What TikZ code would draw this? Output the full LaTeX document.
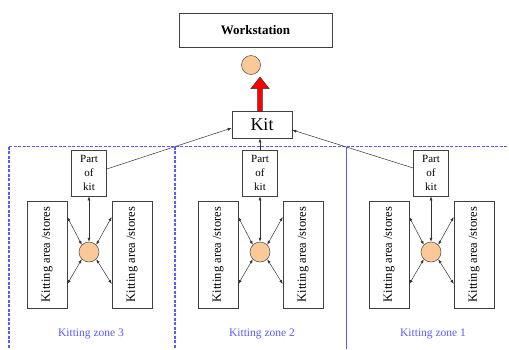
\documentclass[tikz,border=0pt]{standalone}
\usepackage{fontspec}
\setmainfont{Liberation Serif}
\usetikzlibrary{arrows.meta,calc}
\definecolor{zoneblue}{RGB}{90,90,250}
\definecolor{peach}{RGB}{251,200,152}
\tikzset{
  box/.style={draw=black!75, fill=white, line width=0.6pt, inner sep=0pt},
  store/.style={box, minimum width=40pt, minimum height=107pt},
  partbox/.style={box, minimum width=35pt, minimum height=46pt, align=center,
    font=\fontsize{11}{14}\selectfont},
  token/.style={circle, draw=black!70, fill=peach, line width=0.5pt,
    minimum size=20pt, inner sep=0pt},
  flow/.style={line width=0.5pt, black!80, -{Latex[length=4pt,width=3pt]}},
  both/.style={line width=0.5pt, black!80, {Latex[length=4pt,width=3pt]}-{Latex[length=4pt,width=3pt]}},
  zoneline/.style={draw=zoneblue, line width=1pt},
  zonedash/.style={zoneline, line width=1.4pt, dash pattern=on 3pt off 1.5pt},
  zonelabel/.style={text=zoneblue, font=\fontsize{11.5}{13}\selectfont},
}
\begin{document}
\begin{tikzpicture}[x=1pt,y=-1pt]
\useasboundingbox (0,0) rectangle (509,349);

% zone boundaries
\draw[zonedash, line width=1pt] (9,146.5) -- (509,146.5);
\draw[zonedash] (9,146.5) -- (9,349);
\draw[zonedash] (175,146.5) -- (175,349);
\draw[zoneline] (346.5,146.5) -- (346.5,349);

% workstation and delivered kit
\node[box, minimum width=153pt, minimum height=34pt,
  font=\fontsize{13}{15}\selectfont\bfseries] (ws) at (255.5,30) {Workstation};
\node[token, minimum size=19pt] (wt) at (251,65) {};
\node[box, minimum width=60pt, minimum height=27pt,
  font=\fontsize{18}{20}\selectfont] (kit) at (262,124.5) {Kit};

% red delivery arrow
\draw[fill=red, draw=black!80, line width=0.5pt]
  (257.6,111) -- (257.6,88.5) -- (251,88.5) -- (260,77) -- (269,88.5)
  -- (262.4,88.5) -- (262.4,111) -- cycle;

% kitting zones: circle centre x, label
\foreach \cx/\z/\n in {89/3/c, 260/2/b, 431/1/a} {
  \node[token] (t\n) at (\cx,252) {};
  \node[partbox] (p\n) at (\cx,173) {Part\\of\\kit};
  \node[store] (l\n) at (\cx-42,254.5) {};
  \node[rotate=90, font=\fontsize{12.5}{14}\selectfont] at (l\n) {Kitting area /stores};
  \node[store] (r\n) at (\cx+43,254.5) {};
  \node[rotate=90, font=\fontsize{12.5}{14}\selectfont] at (r\n) {Kitting area /stores};
  \node[zonelabel] (z\n) at (\cx+2,334) {Kitting zone \z};
  \draw[both] (p\n.south) -- (t\n.north);
  \draw[both] ([yshift=37.5pt]l\n.east) -- (t\n.north west);
  \draw[both] ([yshift=-29.5pt]l\n.east) -- (t\n.south west);
  \draw[both] ([yshift=37.5pt]r\n.west) -- (t\n.north east);
  \draw[both] ([yshift=-29.5pt]r\n.west) -- (t\n.south east);
}

% parts collected into the kit
\draw[flow] ([yshift=4pt]pc.east) -- ([yshift=-3.5pt]kit.west);
\draw[flow] (pb.north) -- (pb.north |- kit.south);
\draw[flow] ([yshift=5pt]pa.west) -- ([yshift=-5.5pt]kit.east);
\end{tikzpicture}
\end{document}
